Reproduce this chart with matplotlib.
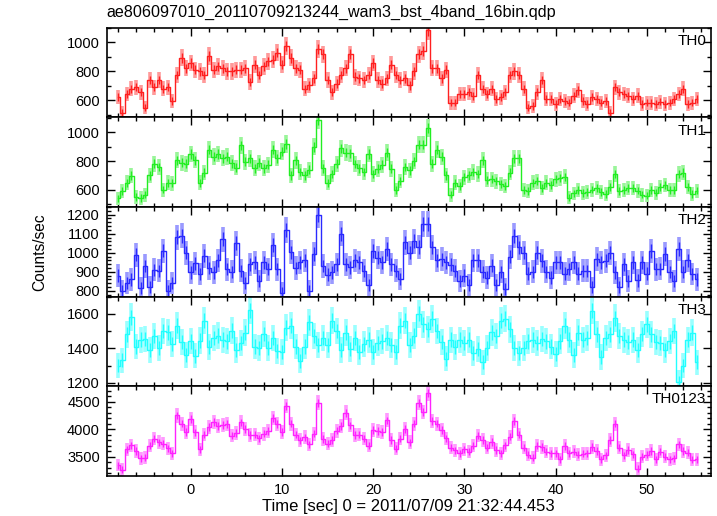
import numpy as np
import matplotlib
matplotlib.use("Agg")
import matplotlib.pyplot as plt
from matplotlib.ticker import MultipleLocator

plt.rcParams["font.family"] = ["Liberation Sans", "DejaVu Sans"]

# time grid: bin centres (values read every 0.5 s)
dt = 0.5
t = np.arange(-8.0, 55.51, dt)
# exposure of one original bin, used for the poisson error bars
bin_exp = 0.25

th0 = [620, 512, 643, 679, 690, 655, 548, 740, 690, 738, 679, 690, 595, 774, 893, 821,
       857, 810, 798, 774, 905, 810, 833, 821, 798, 798, 810, 810, 821, 726, 845, 774,
       833, 869, 881, 929, 845, 976, 893, 821, 810, 679, 702, 750, 952, 917, 738, 655,
       714, 774, 821, 917, 762, 750, 738, 774, 857, 738, 714, 750, 845, 774, 738, 750,
       702, 798, 917, 940, 1083, 821, 821, 750, 810, 583, 583, 643, 643, 655, 631, 774,
       679, 643, 679, 607, 619, 655, 774, 798, 774, 679, 548, 560, 655, 738, 607, 607,
       571, 607, 595, 583, 631, 667, 595, 571, 619, 607, 583, 595, 512, 690, 655, 643,
       631, 607, 631, 571, 583, 578, 571, 590, 571, 583, 607, 643, 679, 571, 583, 607]

th1 = [540, 590, 650, 699, 550, 542, 566, 700, 783, 760, 602, 650, 645, 807, 790, 783,
       850, 807, 650, 720, 880, 831, 850, 820, 831, 785, 755, 910, 795, 819, 750, 790,
       750, 775, 880, 820, 867, 920, 700, 805, 723, 700, 740, 900, 1090, 750, 650, 710,
       783, 890, 860, 855, 780, 750, 723, 850, 710, 747, 775, 860, 747, 600, 662, 760,
       735, 800, 916, 916, 1030, 783, 880, 830, 700, 566, 650, 626, 687, 700, 723, 711,
       807, 670, 675, 660, 640, 626, 720, 819, 820, 600, 590, 650, 660, 614, 650, 635,
       675, 680, 690, 545, 575, 600, 578, 585, 602, 610, 585, 570, 620, 711, 590, 600,
       614, 615, 595, 566, 560, 600, 580, 620, 635, 600, 600, 711, 720, 620, 570, 595]

th2 = [880, 800, 840, 860, 990, 815, 930, 820, 910, 905, 1011, 800, 840, 1081, 1090, 1000,
       897, 945, 888, 984, 920, 897, 960, 1072, 914, 900, 1050, 905, 840, 940, 950, 850,
       949, 914, 1040, 914, 791, 1120, 1002, 920, 949, 960, 800, 993, 1200, 930, 885, 897,
       940, 1100, 940, 923, 960, 949, 905, 830, 1010, 975, 950, 1019, 940, 905, 861, 1054,
       1000, 1060, 1030, 1151, 1150, 1028, 960, 967, 949, 938, 905, 850, 880, 830, 960, 960,
       900, 870, 932, 830, 900, 810, 980, 1090, 1028, 1000, 890, 900, 1000, 958, 900, 870,
       949, 950, 890, 914, 950, 890, 905, 905, 818, 967, 949, 958, 1000, 897, 818, 940,
       850, 949, 855, 949, 890, 1010, 914, 915, 993, 900, 850, 1019, 900, 960, 888, 860]

th3 = [1300, 1330, 1480, 1581, 1410, 1450, 1454, 1390, 1470, 1400, 1500, 1493, 1425, 1530, 1435, 1360,
       1440, 1357, 1445, 1560, 1406, 1460, 1474, 1450, 1440, 1503, 1390, 1430, 1490, 1620, 1410, 1400,
       1483, 1400, 1460, 1386, 1380, 1520, 1530, 1410, 1328, 1410, 1550, 1470, 1420, 1460, 1420, 1560,
       1500, 1390, 1490, 1396, 1460, 1380, 1425, 1450, 1380, 1430, 1440, 1460, 1420, 1380, 1532, 1560,
       1420, 1474, 1600, 1540, 1510, 1570, 1500, 1435, 1340, 1450, 1406, 1450, 1430, 1450, 1370, 1396,
       1320, 1400, 1493, 1470, 1560, 1571, 1510, 1400, 1370, 1400, 1440, 1450, 1430, 1454, 1440, 1410,
       1367, 1440, 1532, 1450, 1360, 1490, 1450, 1460, 1619, 1480, 1350, 1460, 1480, 1575, 1470, 1450,
       1435, 1450, 1390, 1483, 1540, 1480, 1435, 1430, 1390, 1440, 1500, 1202, 1300, 1450, 1490, 1320]

th0123 = [3344, 3260, 3630, 3705, 3600, 3465, 3480, 3700, 3826, 3760, 3735, 3650, 3560, 4247, 4100, 3950,
          4180, 3940, 3630, 3900, 4036, 4127, 4060, 4070, 4090, 3880, 3930, 4120, 4000, 3890, 3900, 3830,
          3916, 3960, 4200, 4097, 3950, 4420, 4100, 3900, 3796, 3850, 3720, 3916, 4480, 3820, 3735, 3800,
          3970, 4050, 4300, 4067, 3890, 3900, 3826, 3700, 3980, 3960, 3950, 4157, 3800, 3640, 3826, 4000,
          3760, 4100, 4480, 4307, 4650, 4150, 4100, 3980, 3830, 3660, 3615, 3560, 3630, 3590, 3700, 3880,
          3800, 3660, 3766, 3620, 3560, 3705, 3860, 4150, 3900, 3660, 3530, 3480, 3700, 3675, 3585, 3560,
          3555, 3450, 3690, 3560, 3585, 3530, 3550, 3560, 3675, 3600, 3450, 3520, 3800, 4100, 3660, 3525,
          3620, 3540, 3280, 3500, 3530, 3600, 3450, 3585, 3500, 3450, 3470, 3720, 3600, 3570, 3440, 3450]

names = ["TH0", "TH1", "TH2", "TH3", "TH0123"]
series = [th0, th1, th2, th3, th0123]
colors = ["#ff2020", "#22ee22", "#2a2aff", "#22ffff", "#ff22ff"]
light = ["#ff9a9a", "#9af59a", "#9a9aff", "#9affff", "#ff9aff"]
ylims = [(480, 1100), (480, 1105), (770, 1240), (1180, 1700), (3150, 4780)]
majors = [200, 200, 100, 200, 500]
minors = [100, 100, 20, 100, 100]

fig = plt.figure(figsize=(7.17, 5.16), dpi=100)
left, right, top, bottom = 0.149, 0.991, 0.946, 0.078
h = (top - bottom) / 5

axes = []
for i in range(5):
    ax = fig.add_axes([left, top - (i + 1) * h, right - left, h])
    y = np.array(series[i], dtype=float)
    err = np.sqrt(y / bin_exp)
    ax.errorbar(t, y, yerr=err, fmt="none", ecolor=light[i], elinewidth=2.6, capsize=0)
    ax.errorbar(t, y, yerr=err * 0.55, fmt="none", ecolor=colors[i], elinewidth=1.0, capsize=0)
    ax.step(t, y, where="mid", color=colors[i], lw=1.0)
    ax.set_xlim(-9.2, 57.0)
    ax.set_ylim(*ylims[i])
    ax.yaxis.set_major_locator(MultipleLocator(majors[i]))
    ax.yaxis.set_minor_locator(MultipleLocator(minors[i]))
    ax.xaxis.set_major_locator(MultipleLocator(10))
    ax.xaxis.set_minor_locator(MultipleLocator(2))
    ax.tick_params(which="both", direction="in", top=True, right=True, labelsize=10.5, width=1.0, pad=5)
    ax.tick_params(which="major", length=6)
    ax.tick_params(which="minor", length=3)
    for s in ax.spines.values():
        s.set_linewidth(1.2)
    ax.text(0.993, 0.93, names[i], transform=ax.transAxes, ha="right", va="top", fontsize=11)
    if i < 4:
        ax.tick_params(labelbottom=False)
    axes.append(ax)

fig.text(left, 0.975, "ae806097010_20110709213244_wam3_bst_4band_16bin.qdp",
         ha="left", va="center", fontsize=11.6)
fig.text(0.055, (top + bottom) / 2, "Counts/sec", rotation=90, ha="center", va="center", fontsize=11.2)
axes[-1].set_xlabel("Time [sec] 0 = 2011/07/09 21:32:44.453", fontsize=12, labelpad=2)

plt.savefig("out.png", dpi=100)
